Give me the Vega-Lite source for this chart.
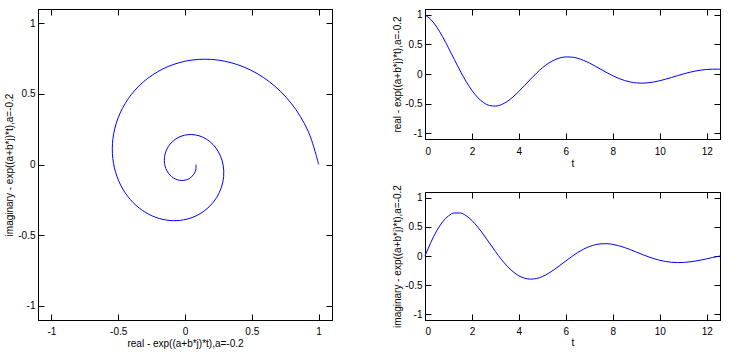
{
  "$schema": "https://vega.github.io/schema/vega-lite/v6.json",
  "padding": {"left": 4, "top": 8, "right": 5, "bottom": 5},
  "background": "white",
  "config": {
    "font": "Liberation Sans",
    "view": {"stroke": "black", "strokeWidth": 1},
    "axis": {
      "grid": false,
      "domainColor": "black",
      "tickColor": "black",
      "labelColor": "black",
      "titleColor": "black",
      "labelFont": "Liberation Sans",
      "titleFont": "Liberation Sans",
      "labelFontSize": 10,
      "titleFontSize": 10,
      "titleFontWeight": "normal",
      "tickSize": -6,
      "labelPadding": 8,
      "titlePadding": 4,
      "labelExpr": "'' + datum.value"
    }
  },
  "data": {
    "values": [
      {"t": 0, "re": 1, "im": 0},
      {"t": 0.25, "re": 0.92166, "im": 0.23534},
      {"t": 0.5, "re": 0.79407, "im": 0.4338},
      {"t": 0.75, "re": 0.62977, "im": 0.58669},
      {"t": 1, "re": 0.44236, "im": 0.68894},
      {"t": 1.25, "re": 0.24557, "im": 0.73907},
      {"t": 1.5, "re": 0.0524, "im": 0.73896},
      {"t": 1.75, "re": -0.12561, "im": 0.6934},
      {"t": 2, "re": -0.27895, "im": 0.60952},
      {"t": 2.25, "re": -0.40054, "im": 0.49612},
      {"t": 2.5, "re": -0.48592, "im": 0.36299},
      {"t": 2.75, "re": -0.53328, "im": 0.2202},
      {"t": 3, "re": -0.54332, "im": 0.07745},
      {"t": 3.25, "re": -0.51898, "im": -0.05648},
      {"t": 3.5, "re": -0.46503, "im": -0.17419},
      {"t": 3.75, "re": -0.38761, "im": -0.26999},
      {"t": 4, "re": -0.2937, "im": -0.34005},
      {"t": 4.25, "re": -0.19066, "im": -0.38253},
      {"t": 4.5, "re": -0.0857, "im": -0.39743},
      {"t": 4.75, "re": 0.01454, "im": -0.38647},
      {"t": 5, "re": 0.10435, "im": -0.35277},
      {"t": 5.25, "re": 0.1792, "im": -0.30057},
      {"t": 5.5, "re": 0.2359, "im": -0.23485},
      {"t": 5.75, "re": 0.27263, "im": -0.16103},
      {"t": 6, "re": 0.2892, "im": -0.08416},
      {"t": 6.25, "re": 0.28635, "im": -0.00951},
      {"t": 6.5, "re": 0.26615, "im": 0.05863},
      {"t": 6.75, "re": 0.2315, "im": 0.11667},
      {"t": 7, "re": 0.18591, "im": 0.16201},
      {"t": 7.25, "re": 0.13322, "im": 0.19307},
      {"t": 7.5, "re": 0.07735, "im": 0.2093},
      {"t": 7.75, "re": 0.02203, "im": 0.2111},
      {"t": 8, "re": -0.02938, "im": 0.19975},
      {"t": 8.25, "re": -0.07408, "im": 0.17719},
      {"t": 8.5, "re": -0.10998, "im": 0.14587},
      {"t": 8.75, "re": -0.13569, "im": 0.10856},
      {"t": 9, "re": -0.15061, "im": 0.06812},
      {"t": 9.25, "re": -0.15484, "im": 0.02734},
      {"t": 9.5, "re": -0.14915, "im": -0.01124},
      {"t": 9.75, "re": -0.13482, "im": -0.04546},
      {"t": 10, "re": -0.11356, "im": -0.07363},
      {"t": 10.25, "re": -0.08733, "im": -0.09458},
      {"t": 10.5, "re": -0.05823, "im": -0.10772},
      {"t": 10.75, "re": -0.02832, "im": -0.11299},
      {"t": 11, "re": 0.00049, "im": -0.1108},
      {"t": 11.25, "re": 0.02653, "im": -0.10201},
      {"t": 11.5, "re": 0.04846, "im": -0.08777},
      {"t": 11.75, "re": 0.06532, "im": -0.06949},
      {"t": 12, "re": 0.07655, "im": -0.04868},
      {"t": 12.25, "re": 0.08201, "im": -0.02685},
      {"t": 12.5, "re": 0.0819, "im": -0.00544},
      {"t": 12.566, "re": 0.081, "im": 0}
    ]
  },
  "bounds": "flush",
  "spacing": 93,
  "hconcat": [
    {
      "width": 294,
      "height": 311,
      "layer": [
        {
          "mark": {"type": "line", "color": "#0000ff", "strokeWidth": 1, "interpolate": "catmull-rom"},
          "encoding": {
            "x": {"field": "re", "type": "quantitative", "scale": {"domain": [-1.1, 1.1], "nice": false, "zero": false},
                  "axis": {"values": [-1, -0.5, 0, 0.5, 1], "title": "real - exp((a+b*j)*t),a=-0.2", "labelPadding": 12, "titlePadding": 2}},
            "y": {"field": "im", "type": "quantitative", "scale": {"domain": [-1.1, 1.1], "nice": false, "zero": false},
                  "axis": {"values": [-1, -0.5, 0, 0.5, 1], "title": "imaginary - exp((a+b*j)*t),a=-0.2", "labelPadding": 9, "titlePadding": 3}},
            "order": {"field": "t", "type": "quantitative"}
          }
        },
        {
          "mark": {"type": "line", "strokeOpacity": 0, "interpolate": "catmull-rom"},
          "encoding": {
            "x": {"field": "re", "type": "quantitative", "scale": {"domain": [-1.1, 1.1], "nice": false, "zero": false},
                  "axis": {"orient": "top", "values": [-1, -0.5, 0, 0.5, 1], "labels": false, "title": null}},
            "y": {"field": "im", "type": "quantitative", "scale": {"domain": [-1.1, 1.1], "nice": false, "zero": false},
                  "axis": {"orient": "right", "values": [-1, -0.5, 0, 0.5, 1], "labels": false, "title": null}},
            "order": {"field": "t", "type": "quantitative"}
          }
        }
      ],
      "resolve": {"axis": {"x": "independent", "y": "independent"}}
    },
    {
      "bounds": "flush",
      "spacing": 53,
      "vconcat": [
        {
          "width": 295,
          "height": 130,
          "layer": [
            {
              "mark": {"type": "line", "color": "#0000ff", "strokeWidth": 1, "interpolate": "monotone"},
              "encoding": {
                "x": {"field": "t", "type": "quantitative", "scale": {"domain": [0, 12.566], "nice": false, "zero": false},
                      "axis": {"values": [0, 2, 4, 6, 8, 10, 12], "title": "t", "labelPadding": 13, "titlePadding": 2}},
                "y": {"field": "re", "type": "quantitative", "scale": {"domain": [-1.1, 1.1], "nice": false, "zero": false},
                      "axis": {"values": [-1, -0.5, 0, 0.5, 1], "title": "real - exp((a+b*j)*t),a=-0.2", "labelPadding": 9, "titlePadding": 2}}
              }
            },
            {
              "mark": {"type": "line", "strokeOpacity": 0},
              "encoding": {
                "x": {"field": "t", "type": "quantitative", "scale": {"domain": [0, 12.566], "nice": false, "zero": false},
                      "axis": {"orient": "top", "values": [0, 2, 4, 6, 8, 10, 12], "labels": false, "title": null}},
                "y": {"field": "re", "type": "quantitative", "scale": {"domain": [-1.1, 1.1], "nice": false, "zero": false},
                      "axis": {"orient": "right", "values": [-1, -0.5, 0, 0.5, 1], "labels": false, "title": null}}
              }
            }
          ],
          "resolve": {"axis": {"x": "independent", "y": "independent"}}
        },
        {
          "width": 295,
          "height": 128,
          "layer": [
            {
              "mark": {"type": "line", "color": "#0000ff", "strokeWidth": 1, "interpolate": "monotone"},
              "encoding": {
                "x": {"field": "t", "type": "quantitative", "scale": {"domain": [0, 12.566], "nice": false, "zero": false},
                      "axis": {"values": [0, 2, 4, 6, 8, 10, 12], "title": "t", "labelPadding": 12, "titlePadding": 1}},
                "y": {"field": "im", "type": "quantitative", "scale": {"domain": [-1.1, 1.1], "nice": false, "zero": false},
                      "axis": {"values": [-1, -0.5, 0, 0.5, 1], "title": "imaginary - exp((a+b*j)*t),a=-0.2", "labelPadding": 9, "titlePadding": 2}}
              }
            },
            {
              "mark": {"type": "line", "strokeOpacity": 0},
              "encoding": {
                "x": {"field": "t", "type": "quantitative", "scale": {"domain": [0, 12.566], "nice": false, "zero": false},
                      "axis": {"orient": "top", "values": [0, 2, 4, 6, 8, 10, 12], "labels": false, "title": null}},
                "y": {"field": "im", "type": "quantitative", "scale": {"domain": [-1.1, 1.1], "nice": false, "zero": false},
                      "axis": {"orient": "right", "values": [-1, -0.5, 0, 0.5, 1], "labels": false, "title": null}}
              }
            }
          ],
          "resolve": {"axis": {"x": "independent", "y": "independent"}}
        }
      ]
    }
  ]
}
